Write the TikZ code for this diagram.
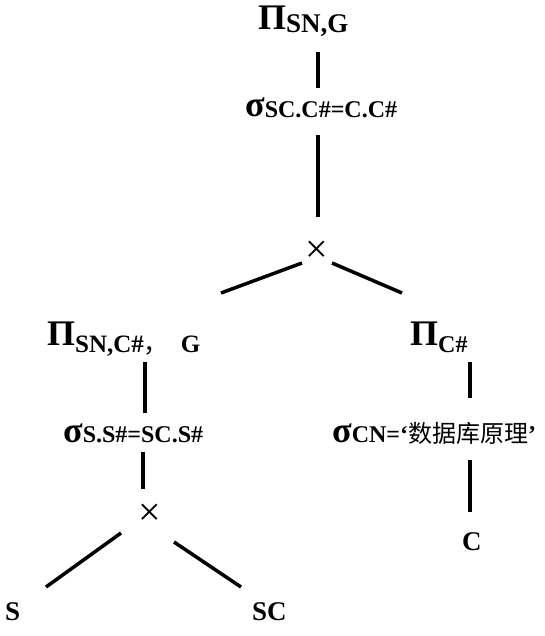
\documentclass[tikz,border=0pt]{standalone}
\usepackage{fontspec}
\setmainfont{Liberation Serif}
\newfontfamily\cjk{Noto Sans CJK SC}
\newcommand\opPi{{\fontsize{36}{36}\selectfont Π}}
\newcommand\opSig{{\fontsize{36}{36}\selectfont σ}}
\newcommand\subt[3][24]{\raisebox{-#2pt}{\fontsize{#1}{#1}\selectfont #3}}
\begin{document}
\begin{tikzpicture}[x=1pt,y=-1pt,
  lbl/.style={inner sep=0pt, anchor=base west, font=\bfseries},
  leaf/.style={inner sep=0pt, anchor=base west, font=\bfseries\fontsize{27}{27}\selectfont},
  cross/.style={inner sep=0pt, anchor=center, font=\fontsize{40}{40}\selectfont},
  conn/.style={line width=3.5pt}]
\useasboundingbox (0,0) rectangle (544,636);
% labels
\node[lbl] (p1) at (258,30) {\opPi\subt[27]{3}{SN,G}};
\node[lbl] (s1) at (245,117) {\opSig\subt{1}{SC.C\#=C.C\#}};
\node[cross] (x1) at (317,252) {×};
\node[lbl] (p2) at (47,345) {\opPi\subt[25]{7}{SN,C\#{\cjk\mdseries ，}\hspace{12pt}G}};
\node[lbl] (p3) at (410,345) {\opPi\subt{7}{C\#}};
\node[lbl] (s2) at (63,442) {\opSig\subt{0}{S.S\#=SC.S\#}};
\node[lbl] (s3) at (332,442) {\opSig\subt{0}{CN=‘{\cjk\mdseries 数据库原理}’}};
\node[cross] (x2) at (150,515) {×};
\node[leaf] (S) at (5,620) {S};
\node[leaf] (SC) at (252,620) {SC};
\node[leaf] (C) at (462,550) {C};
% connector end points
\coordinate (p1b) at (318,52);  \coordinate (s1t) at (318,88);
\coordinate (s1b) at (318,135); \coordinate (x1t) at (318,217);
\coordinate (x1l) at (302,263); \coordinate (p2t) at (221,293);
\coordinate (x1r) at (332,263); \coordinate (p3t) at (402,293);
\coordinate (p2b) at (145,362); \coordinate (s2t) at (145,413);
\coordinate (s2b) at (143,452); \coordinate (x2t) at (143,489);
\coordinate (x2l) at (121,533); \coordinate (St) at (46,587);
\coordinate (x2r) at (174,542); \coordinate (SCt) at (241,587);
\coordinate (p3b) at (470,362); \coordinate (s3t) at (470,398);
\coordinate (s3b) at (470,460); \coordinate (Ct) at (470,512);
% connectors
\draw[conn] (p1b) -- (s1t);
\draw[conn] (s1b) -- (x1t);
\draw[conn] (x1l) -- (p2t);
\draw[conn] (x1r) -- (p3t);
\draw[conn] (p2b) -- (s2t);
\draw[conn] (s2b) -- (x2t);
\draw[conn] (x2l) -- (St);
\draw[conn] (x2r) -- (SCt);
\draw[conn] (p3b) -- (s3t);
\draw[conn] (s3b) -- (Ct);
\end{tikzpicture}
\end{document}
